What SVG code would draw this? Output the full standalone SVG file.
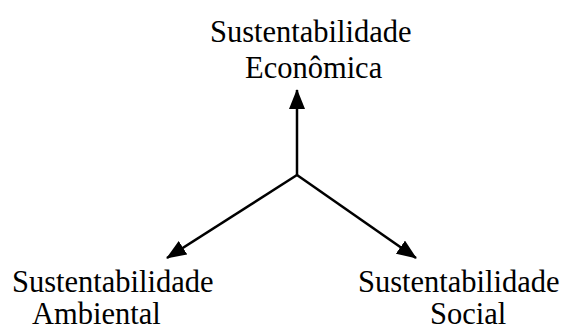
<svg xmlns="http://www.w3.org/2000/svg" width="568" height="332" viewBox="0 0 568 332">
  <style>
    .lbl { font-family: "Liberation Serif", "Times New Roman", serif; font-size: 30.5px; fill: #000; }
    .edge { stroke: #000; stroke-width: 2.5; fill: none; }
  </style>
  <defs>
    <marker id="arrow" markerUnits="userSpaceOnUse" markerWidth="20" markerHeight="16" viewBox="0 0 20 16" refX="19" refY="8" orient="auto">
      <path d="M0,0 L20,8 L0,16 Z" fill="#000"/>
    </marker>
  </defs>
  <rect width="568" height="332" fill="#fff"/>
  <g id="connectors">
    <line class="edge" x1="297" y1="176" x2="297" y2="90" marker-end="url(#arrow)"/>
    <line class="edge" x1="297" y1="175" x2="167" y2="258" marker-end="url(#arrow)"/>
    <line class="edge" x1="297" y1="175" x2="416" y2="258" marker-end="url(#arrow)"/>
  </g>
  <g id="economica">
    <text class="lbl" x="210" y="42">Sustentabilidade</text>
    <text class="lbl" x="245" y="78">Econômica</text>
  </g>
  <g id="ambiental">
    <text class="lbl" x="12" y="292">Sustentabilidade</text>
    <text class="lbl" x="32" y="324">Ambiental</text>
  </g>
  <g id="social">
    <text class="lbl" x="358" y="292">Sustentabilidade</text>
    <text class="lbl" x="430" y="324">Social</text>
  </g>
</svg>
